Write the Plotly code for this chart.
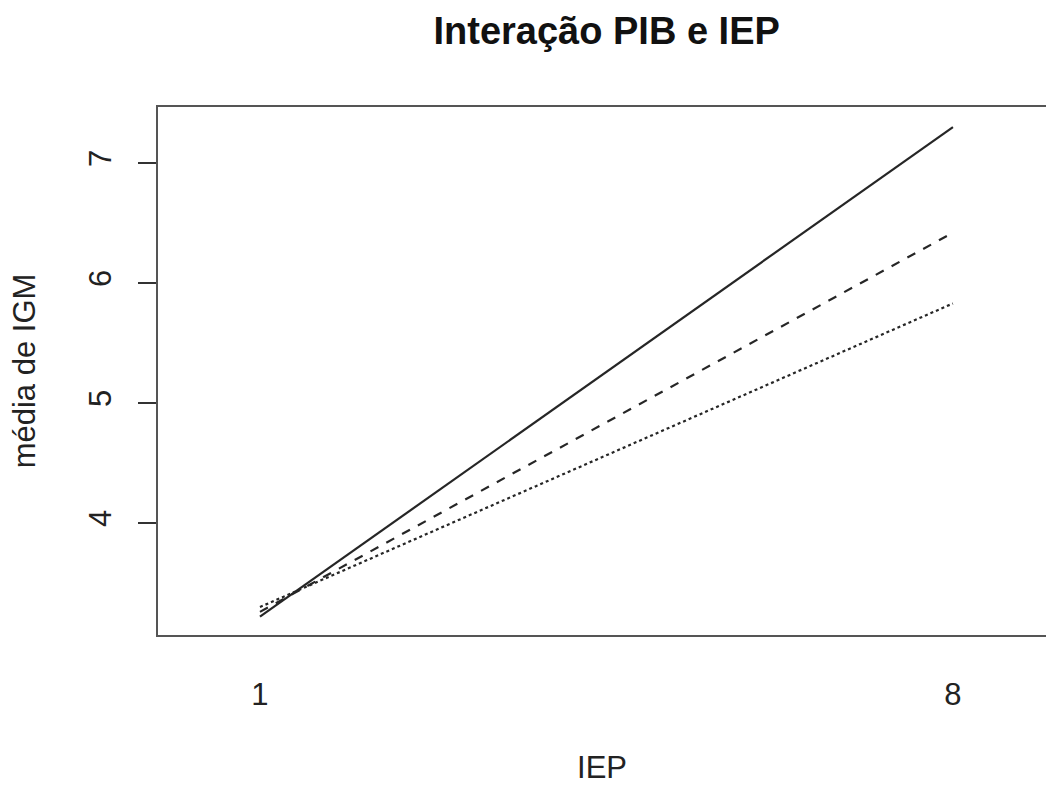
import plotly.graph_objects as go

iep = [1, 8]
iep_labels = ["1", "8"]
pib_alto = [3.22, 7.30]
pib_medio = [3.26, 6.42]
pib_baixo = [3.30, 5.83]
y_ticks = [4, 5, 6, 7]

FONT = "Liberation Sans, Arial, sans-serif"
LINE_COL = "#262626"

fig = go.Figure()
for name, vals, dash in [("PIB alto", pib_alto, "solid"),
                         ("PIB médio", pib_medio, "dash"),
                         ("PIB baixo", pib_baixo, "dot")]:
    fig.add_trace(go.Scatter(x=iep, y=vals, mode="lines", name=name,
                             line=dict(color=LINE_COL, width=2.2, dash=dash)))

fig.update_layout(
    width=1046, height=785,
    margin=dict(l=158, r=0, t=107, b=150),
    paper_bgcolor="white", plot_bgcolor="white",
    showlegend=False,
    font=dict(family=FONT, size=31, color="#222"),
    title=dict(text="<b>Interação PIB e IEP</b>", x=0.58, xanchor="center",
               y=0.961, yanchor="middle",
               font=dict(family=FONT, size=38, color="#111")),
)
fig.update_xaxes(
    range=[-0.03, 8.94], tickvals=iep, ticktext=iep_labels,
    ticks="", showgrid=False, zeroline=False, automargin=False,
    showline=True, mirror=True, linecolor="#555", linewidth=2,
    ticklabelstandoff=31,
    title=dict(text="IEP", standoff=61, font=dict(size=31)),
)
fig.update_yaxes(
    range=[3.067, 7.467], tickvals=y_ticks, ticktext=[str(v) for v in y_ticks],
    ticks="outside", ticklen=18, tickwidth=2, tickcolor="#333",
    tickangle=-90, ticklabelstandoff=15, automargin=False,
    showgrid=False, zeroline=False,
    showline=True, mirror=False, linecolor="#555", linewidth=2,
    title=dict(text="média de IGM", standoff=38, font=dict(size=31)),
)

fig.write_html("out.html", config={"displayModeBar": False, "responsive": False},
               post_script="document.body.style.margin='0';document.documentElement.style.overflow='hidden';")
